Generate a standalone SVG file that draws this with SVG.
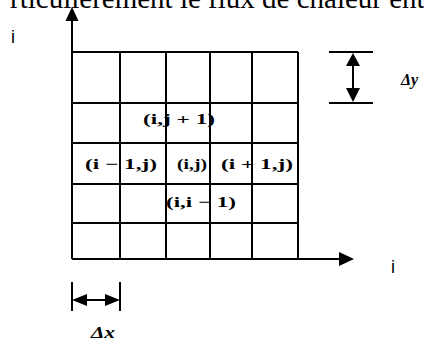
<svg xmlns="http://www.w3.org/2000/svg" width="424" height="341" viewBox="0 0 424 341">
<style>
.ln{stroke:#000;stroke-width:2;fill:none}
.ah{fill:#000;stroke:none}
.lab{font-family:"Liberation Serif","DejaVu Serif",serif;font-weight:bold;font-size:15px;fill:#000}
.ax{font-family:"Liberation Sans",Arial,sans-serif;font-size:18px;fill:#000}
.dl{font-family:"Liberation Serif","DejaVu Serif",serif;font-weight:bold;font-style:italic;font-size:16px;fill:#000}
</style>
<rect width="424" height="341" fill="#fff"/>
<text x="10" y="8" font-family="'Liberation Serif','Times New Roman',serif" font-size="29" fill="#000">rticulièrement le flux de chaleur ent</text>
<g id="grid">
<path class="ln" d="M72,52H298M72,103H298M72,143H298M72,184H298M72,223H298"/>
<path class="ln" d="M120,52V259M166,52V259M210,52V259M252,52V259M298,52V259"/>
</g>
<g id="axes">
<path class="ln" d="M72,259V18M72,259H342"/>
<polygon class="ah" points="72,7 65.5,21 78.5,21"/>
<polygon class="ah" points="354,259 339,252 339,266"/>
<text class="ax" x="11" y="43">i</text>
<text class="ax" x="391" y="273">i</text>
</g>
<g id="labels">
<text class="lab" x="143" y="124" textLength="72" lengthAdjust="spacingAndGlyphs">(i,j + 1)</text>
<text class="lab" x="85" y="169" textLength="72" lengthAdjust="spacingAndGlyphs">(i − 1,j)</text>
<text class="lab" x="177" y="169" textLength="30" lengthAdjust="spacingAndGlyphs">(i,j)</text>
<text class="lab" x="221" y="169" textLength="72" lengthAdjust="spacingAndGlyphs">(i + 1,j)</text>
<text class="lab" x="166" y="207" textLength="70" lengthAdjust="spacingAndGlyphs">(i,i − 1)</text>
</g>
<g id="dy">
<path class="ln" d="M329,52H373M329,103H373M353,64V90"/>
<polygon class="ah" points="353,53 346,66 360,66"/>
<polygon class="ah" points="353,102 346,88 360,88"/>
<text class="dl" x="401" y="85">Δy</text>
</g>
<g id="dx">
<path class="ln" d="M72,282V311M120,282V311M85,300H107"/>
<polygon class="ah" points="72,300 87,294 87,306"/>
<polygon class="ah" points="120,300 105,294 105,306"/>
<text class="dl" x="91" y="338" textLength="24" lengthAdjust="spacingAndGlyphs">Δx</text>
</g>
</svg>
